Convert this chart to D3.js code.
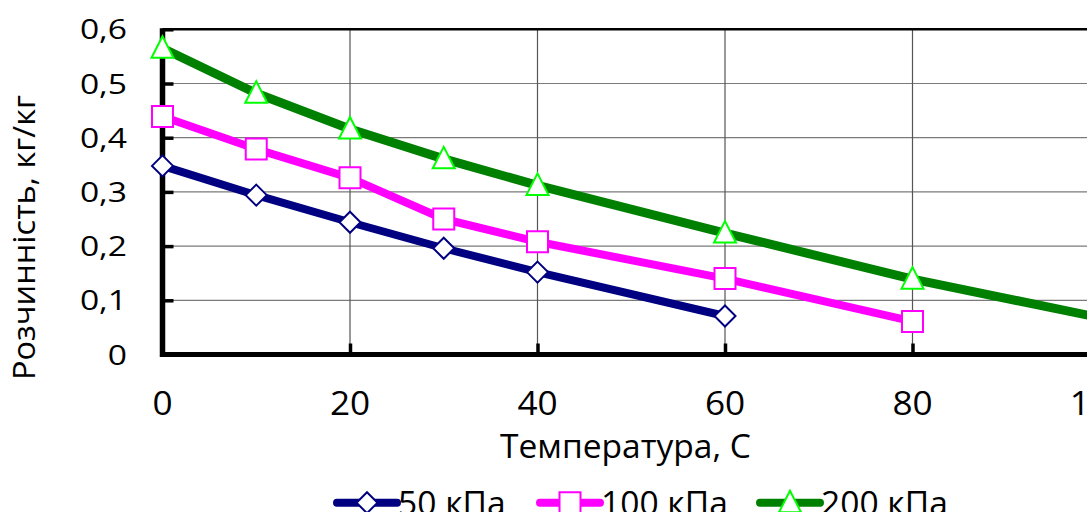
<!DOCTYPE html>
<html>
<head>
<meta charset="utf-8">
<script src="https://cdn.jsdelivr.net/npm/d3@7"></script>
<style>
  body { margin: 0; background: #fff; }
  text { font-family: "Open Sans", Lato, sans-serif; fill: #000; }
</style>
</head>
<body>
<div id="chart"></div>
<script>
// data
var temps = [0, 10, 20, 30, 40, 60, 80, 100];
var kPa50 = [0.348, 0.294, 0.244, 0.196, 0.152, 0.071];
var kPa100 = [0.439, 0.379, 0.326, 0.250, 0.208, 0.140, 0.061];
var kPa200 = [0.565, 0.482, 0.416, 0.361, 0.312, 0.224, 0.139, 0.068];
var seriesNames = ["50 кПа", "100 кПа", "200 кПа"];
var xTicks = [0, 20, 40, 60, 80, 100];
var yTicks = [0, 0.1, 0.2, 0.3, 0.4, 0.5, 0.6];

var svgWidth = 1087, svgHeight = 512;

var svg = d3.select("#chart").append("svg")
  .attr("width", svgWidth)
  .attr("height", svgHeight);

// plot area runs past the right edge of the picture
var xScale = d3.scaleLinear().domain([0, 100]).range([162.5, 1100]);
var yScale = d3.scaleLinear().domain([0, 0.6]).range([354.5, 29.3]);

var series = [
  { name: seriesNames[0], values: kPa50, line: "#000080", mark: "#000080", shape: "diamond", width: 8 },
  { name: seriesNames[1], values: kPa100, line: "#ff00ff", mark: "#ff00ff", shape: "square", width: 8 },
  { name: seriesNames[2], values: kPa200, line: "#008000", mark: "#00ff00", shape: "triangle", width: 9 }
];

// text is a bit wider than the font, so stretch it sideways
function wideText(parent, x, y, str, size, anchor, sx) {
  return parent.append("text")
    .attr("transform", `translate(${x},${y}) scale(${sx},1)`)
    .attr("text-anchor", anchor)
    .style("font-size", size + "px")
    .text(str);
}

// gridlines
svg.append("g").selectAll("line")
  .data(yTicks.slice(1, -1))
  .enter().append("line")
  .attr("x1", xScale(0)).attr("x2", xScale(100))
  .attr("y1", d => yScale(d)).attr("y2", d => yScale(d))
  .attr("stroke", "#7a7a7a").attr("stroke-width", 1.2);

svg.append("g").selectAll("line")
  .data(xTicks.slice(1))
  .enter().append("line")
  .attr("x1", d => xScale(d)).attr("x2", d => xScale(d))
  .attr("y1", yScale(0.6)).attr("y2", yScale(0))
  .attr("stroke", "#555").attr("stroke-width", 1.2);

// top border
svg.append("line")
  .attr("x1", xScale(0)).attr("x2", xScale(100))
  .attr("y1", yScale(0.6)).attr("y2", yScale(0.6))
  .attr("stroke", "#000").attr("stroke-width", 2.5);

// axes
var yAxis = d3.axisLeft(yScale).tickValues(yTicks).tickSizeInner(-11).tickSizeOuter(0).tickFormat("");
var xAxis = d3.axisBottom(xScale).tickValues(xTicks).tickSizeInner(-11).tickSizeOuter(0).tickFormat("");

var yG = svg.append("g").attr("transform", `translate(${xScale(0)},0)`).call(yAxis);
yG.select(".domain").attr("stroke", "#000").attr("stroke-width", 5.5)
  .attr("d", `M0,${yScale(0.6) - 1}V${yScale(0) + 2.5}`);
yG.selectAll(".tick line").attr("stroke", "#000").attr("stroke-width", 3.5);

var xG = svg.append("g").attr("transform", `translate(0,${yScale(0)})`).call(xAxis);
xG.select(".domain").attr("stroke", "#000").attr("stroke-width", 5)
  .attr("d", `M${xScale(0) - 2.5},0H${xScale(100)}`);
xG.selectAll(".tick line").attr("stroke", "#000").attr("stroke-width", 3.5);

// tick labels
var yLab = svg.append("g");
yTicks.forEach(function(d) {
  var s = d === 0 ? "0" : d3.format(".1f")(d).replace(".", ",");
  wideText(yLab, 127, yScale(d) + 10, s, 28, "end", 1.2);
});

var xLab = svg.append("g");
xTicks.forEach(function(d) {
  wideText(xLab, xScale(d), 415, String(d), 32, "middle", 1.1);
});

// axis titles
svg.append("text")
  .attr("x", 500).attr("y", 458)
  .attr("textLength", 251)
  .attr("lengthAdjust", "spacingAndGlyphs")
  .style("font-size", "32px")
  .text("Температура, С");

svg.append("text")
  .attr("transform", "translate(35,380) rotate(-90)")
  .attr("textLength", 285)
  .attr("lengthAdjust", "spacingAndGlyphs")
  .style("font-size", "31px")
  .text("Розчинність, кг/кг");

function markerPath(shape, cx, cy) {
  if (shape === "diamond") return `M${cx},${cy - 10.5}L${cx + 10.5},${cy}L${cx},${cy + 10.5}L${cx - 10.5},${cy}Z`;
  if (shape === "square") return `M${cx - 10.5},${cy - 10.5}h21v21h-21Z`;
  return `M${cx},${cy - 12}L${cx + 11},${cy + 9.5}L${cx - 11},${cy + 9.5}Z`;
}

var line = d3.line()
  .x((d, i) => xScale(temps[i]))
  .y(d => yScale(d));

var seriesG = svg.append("g").selectAll("g")
  .data(series)
  .enter().append("g");

seriesG.append("path")
  .attr("d", d => line(d.values))
  .attr("fill", "none")
  .attr("stroke", d => d.line)
  .attr("stroke-width", d => d.width)
  .attr("stroke-linejoin", "round");

seriesG.each(function(s) {
  d3.select(this).selectAll(".mk")
    .data(s.values)
    .enter().append("path")
    .attr("class", "mk")
    .attr("d", (d, i) => markerPath(s.shape, xScale(temps[i]), yScale(d)))
    .attr("fill", "#fff")
    .attr("stroke", s.mark)
    .attr("stroke-width", 2);
});

// legend (cut off at the bottom of the picture)
var legendX = [337, 540, 760];
var legend = svg.append("g").selectAll("g")
  .data(series)
  .enter().append("g")
  .attr("transform", (d, i) => `translate(${legendX[i]},502.7)`);

legend.append("line")
  .attr("x1", 0).attr("x2", 60)
  .attr("stroke", d => d.line)
  .attr("stroke-width", 8)
  .attr("stroke-linecap", "round");

legend.append("path")
  .attr("d", d => markerPath(d.shape, 30, 0))
  .attr("fill", "#fff")
  .attr("stroke", d => d.mark)
  .attr("stroke-width", 2);

legend.each(function(d) {
  wideText(d3.select(this), 61, 12.5, d.name, 32, "start", 1.05);
});
</script>
</body>
</html>
